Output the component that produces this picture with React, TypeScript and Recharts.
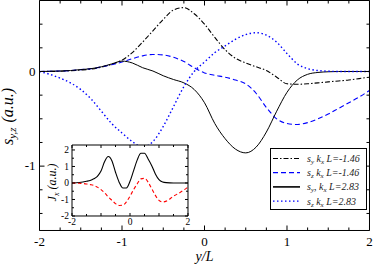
import React from 'react';
import { ComposedChart, Line, XAxis, YAxis, Legend, Label, CartesianGrid } from 'recharts';

// ---------- main panel data ----------
const xMain = [-2, -1.875, -1.75, -1.625, -1.5, -1.375, -1.25, -1.125, -1, -0.875, -0.75, -0.625, -0.5, -0.375, -0.25, -0.125, 0, 0.125, 0.25, 0.375, 0.5, 0.625, 0.75, 0.875, 1, 1.125, 1.25, 1.375, 1.5, 1.625, 1.75, 1.875, 2];
const syNeg = [0, 0.001, 0.003, 0.008, 0.015, 0.025, 0.045, 0.075, 0.12, 0.2, 0.31, 0.43, 0.55, 0.65, 0.675, 0.61, 0.5, 0.36, 0.23, 0.14, 0.09, 0.05, 0.01, -0.06, -0.13, -0.135, -0.13, -0.12, -0.11, -0.1, -0.09, -0.075, -0.06];
const szNeg = [0, 0.002, 0.005, 0.01, 0.02, 0.03, 0.048, 0.072, 0.1, 0.135, 0.165, 0.18, 0.175, 0.15, 0.105, 0.04, -0.015, -0.04, -0.06, -0.09, -0.13, -0.23, -0.38, -0.5, -0.55, -0.56, -0.54, -0.5, -0.45, -0.39, -0.33, -0.27, -0.2];
const syPos = [0, 0.002, 0.005, 0.01, 0.02, 0.03, 0.05, 0.08, 0.11, 0.09, 0.04, 0.005, -0.045, -0.085, -0.12, -0.19, -0.33, -0.55, -0.71, -0.82, -0.86, -0.8, -0.64, -0.42, -0.22, -0.09, -0.03, -0.01, -0.003, 0, 0, 0, 0];
const szPos = [0, -0.03, -0.07, -0.12, -0.19, -0.29, -0.42, -0.55, -0.65, -0.74, -0.8, -0.74, -0.58, -0.37, -0.16, 0, 0.1, 0.2, 0.27, 0.34, 0.39, 0.41, 0.385, 0.31, 0.19, 0.08, 0.03, 0.01, 0.003, 0, 0, 0, 0];

const xTicksMain = [-2, -1.75, -1.5, -1.25, -1, -0.75, -0.5, -0.25, 0, 0.25, 0.5, 0.75, 1, 1.25, 1.5, 1.75, 2];
const yTicksMain = [-1.5, -1.25, -1, -0.75, -0.5, -0.25, 0, 0.25, 0.5];
const xLabelsMain = [-2, -1, 0, 1, 2];
const yLabelsMain = [-1, 0];

// legend
const legendSub = ['y', 'z', 'y', 'z'];
const legendSep = ['', '', ',', ''];
const legendVal = ['-1.46', '-1.46', '2.83', '2.83'];
const legendColor = ['#000', '#0000ff', '#000', '#0000ff'];
const legendDash = ['5 2 1.5 2', '5 3', undefined, '1.5 2.5'];

// ---------- inset data ----------
const xInset = [-2, -1.75, -1.5, -1.375, -1.25, -1.125, -1, -0.875, -0.75, -0.625, -0.5, -0.375, -0.25, -0.125, 0, 0.125, 0.25, 0.375, 0.5, 0.625, 0.75, 0.875, 1, 1.125, 1.25, 1.5, 1.75, 2];
const jxPos = [0, 0.03, 0.1, 0.15, 0.25, 0.4, 0.72, 1.3, 1.6, 1.35, 0.65, 0.05, -0.3, -0.3, 0.1, 0.75, 1.4, 1.8, 1.8, 1.45, 1.05, 0.55, 0.2, 0.06, 0.02, 0, 0, 0];
const jxNeg = [0, -0.02, -0.06, -0.1, -0.15, -0.25, -0.4, -0.6, -0.85, -1.05, -1.25, -1.36, -1.35, -1.15, -0.8, -0.4, -0.05, 0.25, 0.28, 0.05, -0.35, -0.75, -1.05, -1.15, -1.1, -0.8, -0.55, -0.25];
const xTicksInset = [-2, -1.5, -1, -0.5, 0, 0.5, 1, 1.5, 2];
const yTicksInset = [-2, -1.5, -1, -0.5, 0, 0.5, 1, 1.5, 2];
const xLabelsInset = [-2, 0, 2];
const yLabelsInset = [-2, -1, 0, 1, 2];

const mainData = xMain.map((x, i) => ({ x, a: syNeg[i], b: szNeg[i], c: syPos[i], d: szPos[i] }));
const insetData = xInset.map((x, i) => ({ x, j: jxPos[i], r: jxNeg[i] }));

const FONT = '"Liberation Serif", "Times New Roman", serif';
const AX = 0.01; // near-zero axis thickness so the axes still render
const isInt = (v: number) => Math.abs(v - Math.round(v)) < 1e-6;
const fmt = (v: number) => (v < 0 ? '-' + Math.abs(v) : String(v));

type Orient = 'bottom' | 'top' | 'left' | 'right';
function tickFactory(orient: Orient, majorLen: number, minorLen: number, labels: number[], fontSize: number, gap: number) {
  return (props: any) => {
    const { x, y, payload } = props;
    const v = payload.value as number;
    const len = isInt(v) ? majorLen : minorLen;
    const show = labels.some((l) => Math.abs(l - v) < 1e-6);
    let line: any = null;
    let label: any = null;
    if (orient === 'bottom') {
      line = <line x1={x} y1={y} x2={x} y2={y - len} stroke="#000" />;
      if (show) label = <text x={x} y={y + gap} textAnchor="middle" fontSize={fontSize} fontFamily={FONT} fill="#000">{fmt(v)}</text>;
    } else if (orient === 'top') {
      line = <line x1={x} y1={y} x2={x} y2={y + len} stroke="#000" />;
    } else if (orient === 'left') {
      line = <line x1={x} y1={y} x2={x + len} y2={y} stroke="#000" />;
      if (show) label = <text x={x - gap} y={y + fontSize * 0.33} textAnchor="end" fontSize={fontSize} fontFamily={FONT} fill="#000">{fmt(v)}</text>;
    } else {
      line = <line x1={x} y1={y} x2={x - len} y2={y} stroke="#000" />;
    }
    return <g>{line}{label}</g>;
  };
}

const mainBottom = tickFactory('bottom', 5, 3, xLabelsMain, 13, 16);
const mainTop = tickFactory('top', 5, 3, [], 13, 0);
const mainLeft = tickFactory('left', 5, 3, yLabelsMain, 13, 4);
const mainRight = tickFactory('right', 5, 3, [], 13, 0);
const inBottom = tickFactory('bottom', 3, 2, xLabelsInset, 9.5, 9);
const inTop = tickFactory('top', 3, 2, [], 9, 0);
const inLeft = tickFactory('left', 3, 2, yLabelsInset, 9.5, 3);
const inRight = tickFactory('right', 3, 2, [], 9, 0);

const XTitle = (props: any) => {
  const vb = props.viewBox || { x: 0, y: 0, width: 0 };
  return (
    <text x={vb.x + vb.width / 2} y={vb.y + 30.5} textAnchor="middle" fontSize={14} fontStyle="italic" fontFamily={FONT} fill="#000">y/L</text>
  );
};

const YTitle = (props: any) => {
  const vb = props.viewBox || { x: 0, y: 0, height: 0 };
  const cx = vb.x - 27;
  const cy = vb.y + vb.height / 2 + 1;
  return (
    <text transform={`translate(${cx},${cy}) rotate(-90)`} textAnchor="middle" fontSize={16} fontStyle="italic" fontFamily={FONT} fill="#000">
      s<tspan dy={3} fontSize={11}>y,z</tspan><tspan dy={-3} dx={5}>(a.u.)</tspan>
    </text>
  );
};

const JTitle = (props: any) => {
  const vb = props.viewBox || { x: 0, y: 0, height: 0 };
  const cx = vb.x - 16;
  const cy = vb.y + vb.height / 2 + 2;
  return (
    <text transform={`translate(${cx},${cy}) rotate(-90)`} textAnchor="middle" fontSize={12} fontStyle="italic" fontFamily={FONT} fill="#000">
      J<tspan dy={2.5} fontSize={8}>x</tspan><tspan dy={-2.5}> (a.u.)</tspan>
    </text>
  );
};

const LegendBox = () => (
  <svg width={98} height={63} style={{ display: 'block' }}>
    <rect x={0.5} y={0.5} width={96} height={61} fill="#fff" stroke="#000" />
    {legendVal.map((val, i) => {
      const yy = 10.5 + i * 14.2;
      return (
        <g key={i}>
          <line x1={3} x2={30} y1={yy} y2={yy} stroke={legendColor[i]} strokeWidth={i === 2 ? 1.6 : 1.2} strokeDasharray={legendDash[i]} />
          <text x={37} y={yy + 3.5} fontSize={10} fontStyle="italic" fontFamily={FONT} fill="#222">
            s<tspan dy={2} fontSize={7}>{legendSub[i]}</tspan><tspan dy={-2}>{legendSep[i]} k</tspan><tspan dy={2} fontSize={7}>x</tspan><tspan dy={-2}> L={val}</tspan>
          </text>
        </g>
      );
    })}
  </svg>
);

export default function App() {
  return (
    <div style={{ position: 'absolute', left: 0, top: 0, width: 374, height: 266, background: '#fff' }}>
      <ComposedChart width={374} height={266} data={mainData} margin={{ top: 0.5, right: 4.5, bottom: 35.5, left: 39.5 }}>
        <XAxis dataKey="x" type="number" domain={[-2, 2]} ticks={xTicksMain} interval={0} tickSize={0} tickMargin={0} height={AX} tick={mainBottom} axisLine={{ stroke: '#000' }} allowDataOverflow>
          <Label content={XTitle} />
        </XAxis>
        <XAxis xAxisId="top" dataKey="x" orientation="top" type="number" domain={[-2, 2]} ticks={xTicksMain} interval={0} tickSize={0} tickMargin={0} height={AX} tick={mainTop} axisLine={{ stroke: '#000' }} allowDataOverflow />
        <YAxis type="number" domain={[-1.68, 0.75]} ticks={yTicksMain} interval={0} tickSize={0} tickMargin={0} width={AX} tick={mainLeft} axisLine={{ stroke: '#000' }} allowDataOverflow>
          <Label content={YTitle} />
        </YAxis>
        <YAxis yAxisId="right" dataKey="a" orientation="right" type="number" domain={[-1.68, 0.75]} ticks={yTicksMain} interval={0} tickSize={0} tickMargin={0} width={AX} tick={mainRight} axisLine={{ stroke: '#000' }} allowDataOverflow />
        <Line dataKey="a" type="monotone" stroke="#000" strokeWidth={1.1} strokeDasharray="5 2 1.5 2" dot={false} isAnimationActive={false} />
        <Line dataKey="b" type="monotone" stroke="#0000ff" strokeWidth={1.1} strokeDasharray="5 3" dot={false} isAnimationActive={false} />
        <Line dataKey="c" type="monotone" stroke="#000" strokeWidth={1} dot={false} isAnimationActive={false} />
        <Line dataKey="d" type="monotone" stroke="#0000ff" strokeWidth={1.4} strokeDasharray="1.5 2.5" dot={false} isAnimationActive={false} />
        <Legend verticalAlign="middle" align="center" layout="horizontal" content={LegendBox} wrapperStyle={{ left: 270, top: 148, width: 98, height: 63 }} />
      </ComposedChart>
      <div style={{ position: 'absolute', left: 40, top: 138 }}>
        <ComposedChart width={152} height={92} data={insetData} margin={{ top: 7, right: 4, bottom: 14, left: 32 }}>
          <CartesianGrid horizontal={false} vertical={false} fill="#fff" fillOpacity={1} />
          <XAxis dataKey="x" type="number" domain={[-2, 2]} ticks={xTicksInset} interval={0} tickSize={0} tickMargin={0} height={AX} tick={inBottom} axisLine={{ stroke: '#000' }} allowDataOverflow />
          <XAxis xAxisId="top" dataKey="x" orientation="top" type="number" domain={[-2, 2]} ticks={xTicksInset} interval={0} tickSize={0} tickMargin={0} height={AX} tick={inTop} axisLine={{ stroke: '#000' }} allowDataOverflow />
          <YAxis type="number" domain={[-2, 2.3]} ticks={yTicksInset} interval={0} tickSize={0} tickMargin={0} width={AX} tick={inLeft} axisLine={{ stroke: '#000' }} allowDataOverflow>
            <Label content={JTitle} />
          </YAxis>
          <YAxis yAxisId="right" dataKey="j" orientation="right" type="number" domain={[-2, 2.3]} ticks={yTicksInset} interval={0} tickSize={0} tickMargin={0} width={AX} tick={inRight} axisLine={{ stroke: '#000' }} allowDataOverflow />
          <Line dataKey="j" type="monotone" stroke="#000" strokeWidth={1.1} dot={false} isAnimationActive={false} />
          <Line dataKey="r" type="monotone" stroke="#ff0000" strokeWidth={1.1} strokeDasharray="3.5 2.5" dot={false} isAnimationActive={false} />
        </ComposedChart>
      </div>
    </div>
  );
}
